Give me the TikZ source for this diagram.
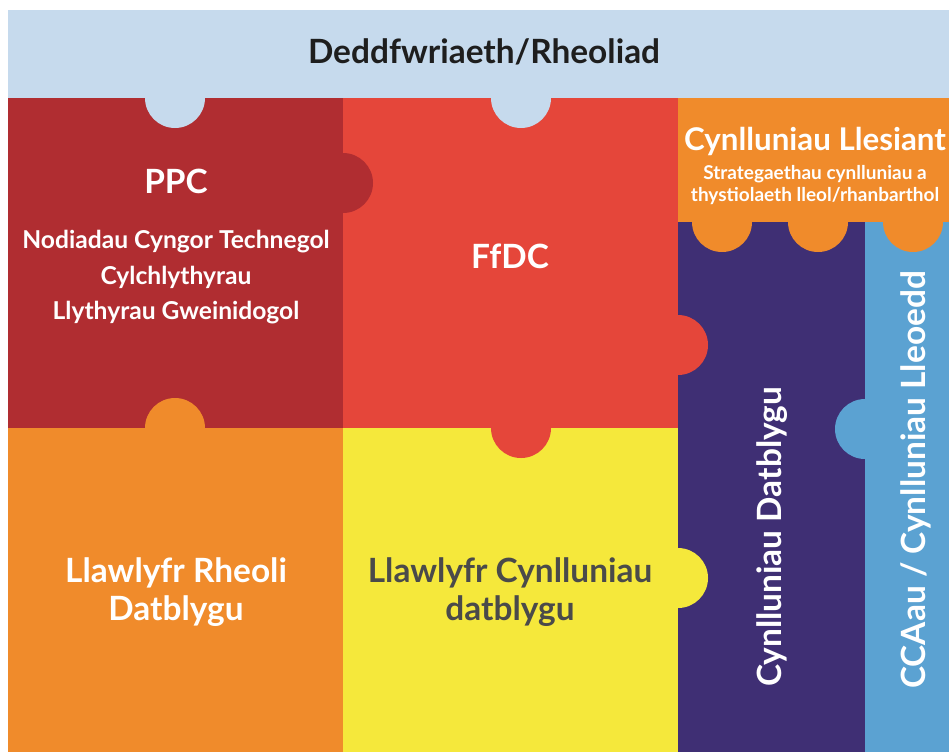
\documentclass[tikz,border=0pt]{standalone}
\usepackage{fontspec}
\setmainfont{Lato}
\definecolor{bandblue}{HTML}{C6DAED}
\definecolor{ppcred}{HTML}{B02D31}
\definecolor{ffdcred}{HTML}{E5463A}
\definecolor{piece orange}{HTML}{F08B2B}
\definecolor{piece yellow}{HTML}{F5E83B}
\definecolor{piece purple}{HTML}{3F2F74}
\definecolor{piece blue}{HTML}{5BA2D2}
\definecolor{darktext}{HTML}{1E1E1E}
\definecolor{greytext}{HTML}{4A4A4A}
\tikzset{
  bigtext/.style={font=\fontsize{9.5pt}{11pt}\selectfont\bfseries, text=white, inner sep=0pt},
  smalltext/.style={font=\fontsize{7pt}{8.4pt}\selectfont\bfseries, text=white, inner sep=0pt},
  tinytext/.style={font=\fontsize{5.4pt}{6pt}\selectfont\bfseries, text=white, inner sep=0pt, align=center}
}
\begin{document}
\begin{tikzpicture}[x=0.01cm,y=-0.01cm]
\useasboundingbox (0,0) rectangle (949,751);
\clip (0,0) rectangle (949,751);

\fill[bandblue] (8,10) rectangle (960,98);
\fill[ppcred] (8,98) rectangle (343,428);
\fill[ffdcred] (343,98) rectangle (678,428);
\fill[piece orange] (678,98) rectangle (960,222);
\fill[piece orange] (8,428) rectangle (343,760);
\fill[piece yellow] (343,428) rectangle (678,760);
\fill[piece purple] (678,222) rectangle (865,760);
\fill[piece blue] (865,222) rectangle (960,760);

\foreach \x in {175,521}
  \fill[bandblue] (\x,98) circle (30);
\fill[ppcred] (343,183) circle (30);
\fill[ffdcred] (678,345) circle (30);
\fill[ffdcred] (521,428) circle (30);
\fill[piece orange] (175,428) circle (30);
\fill[piece yellow] (678,578) circle (30);
\fill[piece blue] (865,429) circle (30);
\foreach \x in {722,818,913}
  \fill[piece orange] (\x,222) circle (30);

\node[bigtext, text=darktext] (law) at (484,52) {Deddfwriaeth/Rheoliad};
\node[bigtext] (ppc) at (176,181) {PPC};
\node[smalltext] (tan) at (176,242) {Nodiadau Cyngor Technegol};
\node[smalltext] (circ) at (176,277) {Cylchlythyrau};
\node[smalltext] (letters) at (176,313) {Llythyrau Gweinidogol};
\node[bigtext] (ffdc) at (510,256) {FfDC};
\node[bigtext, font=\fontsize{8.9pt}{10pt}\selectfont\bfseries] (wellbeing) at (815,141) {Cynlluniau Llesiant};
\node[tinytext] (strat) at (815,185) {Strategaethau cynlluniau a\\thystiolaeth lleol/rhanbarthol};
\node[bigtext, align=center] (dmm) at (176,592) {Llawlyfr Rheoli\\Datblygu};
\node[bigtext, align=center, text=greytext] (dpm) at (510,592) {Llawlyfr Cynlluniau\\datblygu};
\node[bigtext, rotate=90] (ldp) at (772,537) {Cynlluniau Datblygu};
\node[bigtext, rotate=90] (sdp) at (916,480) {CCAau / Cynlluniau Lleoedd};

\end{tikzpicture}
\end{document}
